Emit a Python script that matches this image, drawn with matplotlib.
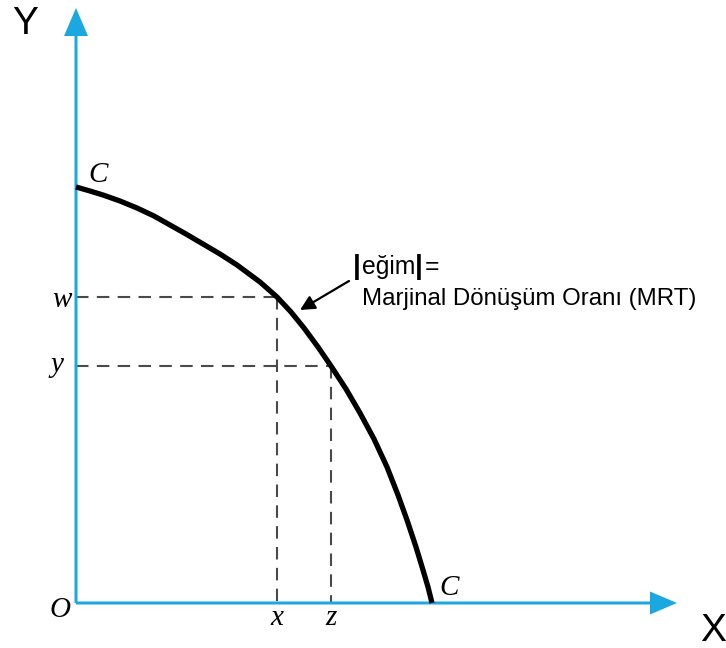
import matplotlib
matplotlib.use("Agg")
import matplotlib.pyplot as plt

# ---- data (units are arbitrary "pixel" units from origin O) ----
curve_x = [0, 14, 27, 44, 61, 78, 94, 110, 127, 144, 161, 184, 201, 215, 228,
           242, 255, 270, 284, 298, 311, 322, 331, 340, 347, 352, 356]
curve_y = [416, 412, 408, 402, 395, 387, 378, 369, 359, 349, 338, 321, 306, 291, 275,
           256, 237, 214, 190, 164, 136, 108, 83, 56, 33, 16, 0]

w_level, y_level = 306, 237      # Y-axis levels
x_level, z_level = 201, 255      # X-axis levels

axis_labels = {"Y": "Y", "X": "X"}
point_labels = ["C", "C", "w", "y", "O", "x", "z"]
annot_line1 = ["|", "eğim", "|", "="]
annot_line2 = "Marjinal Dönüşüm Oranı (MRT)"

BLUE = "#1ba8e0"
DASH = "#4a4a4a"

fig = plt.figure(figsize=(7.26, 6.48), dpi=100)
ax = fig.add_axes([0, 0, 1, 1])
ax.set_xlim(-76, 650)
ax.set_ylim(-45, 603)
ax.axis("off")

# axes with arrows
ax.arrow(0, 0, 0, 595, width=3, head_width=24, head_length=28,
         length_includes_head=True, color=BLUE, lw=0, zorder=2)
ax.arrow(0, 0, 601, 0, width=3, head_width=23, head_length=27,
         length_includes_head=True, color=BLUE, lw=0, zorder=2)

# dashed guide lines
ls = (0, (6, 4))
ax.plot([0, x_level], [w_level, w_level], ls=ls, lw=1.5, color=DASH, zorder=1)
ax.plot([x_level, x_level], [w_level, 0], ls=ls, lw=1.5, color=DASH, zorder=1)
ax.plot([0, z_level], [y_level, y_level], ls=ls, lw=1.5, color=DASH, zorder=1)
ax.plot([z_level, z_level], [y_level, 0], ls=ls, lw=1.5, color=DASH, zorder=1)

# curve
ax.plot(curve_x, curve_y, color="black", lw=3.8, solid_capstyle="butt",
        solid_joinstyle="round", zorder=3)

# axis titles
sans = "Liberation Sans"
serif = "Liberation Serif"
ax.text(-51, 579, axis_labels["Y"], fontsize=28, family=sans, ha="center", va="center")
ax.text(637, -28, axis_labels["X"], fontsize=28, family=sans, ha="center", va="center")

# italic point labels
it = dict(fontsize=21, family=serif, style="italic", ha="center", va="baseline")
ax.text(22, 421, point_labels[0], **it)
ax.text(373, 8, point_labels[1], **it)
ax.text(-14, 296, point_labels[2], **it)
ax.text(-19, 231, point_labels[3], **it)
ax.text(-16, -14, point_labels[4], **it)
ax.text(x_level, -22, point_labels[5], **it)
ax.text(z_level, -22, point_labels[6], **it)

# annotation
fs = 17.3
ax.text(277, 329, annot_line1[0], fontsize=fs + 3, family=sans, weight="bold",
        ha="left", va="baseline")
ax.text(286, 329, annot_line1[1], fontsize=fs + 0.5, family=sans, ha="left", va="baseline")
ax.text(339, 329, annot_line1[2], fontsize=fs + 3, family=sans, weight="bold",
        ha="left", va="baseline")
ax.text(349, 329, annot_line1[3], fontsize=fs + 0.5, family=sans, ha="left", va="baseline")
ax.text(286, 298, annot_line2, fontsize=fs, family=sans, ha="left", va="baseline")

ax.annotate("", xy=(224, 293), xytext=(273, 322),
            arrowprops=dict(arrowstyle="-|>", lw=1.6, color="black",
                            mutation_scale=22, shrinkA=0, shrinkB=0))

fig.savefig("out.png", dpi=100)
